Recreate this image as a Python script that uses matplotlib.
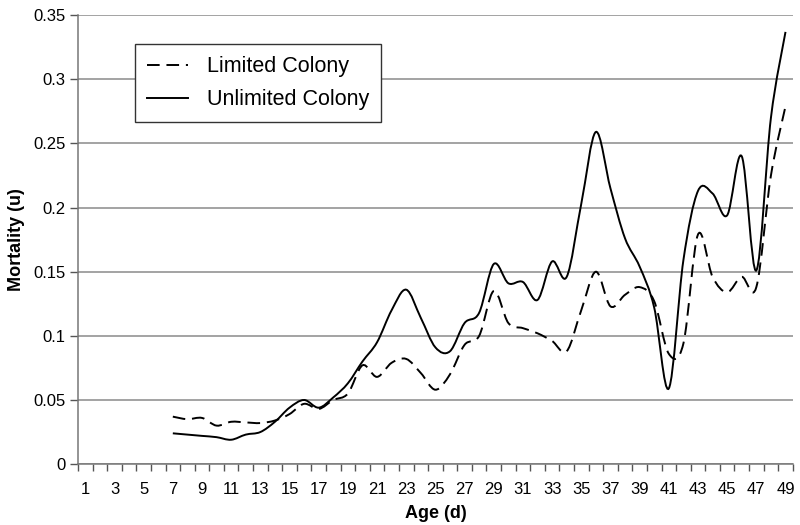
import matplotlib
matplotlib.use("Agg")
import matplotlib.pyplot as plt
from matplotlib.path import Path
from matplotlib.patches import PathPatch
from matplotlib.lines import Line2D

plt.rcParams["font.family"] = ["Liberation Sans", "DejaVu Sans"]

# Age in days (x categories 1..49, data from day 7)
days = list(range(7, 50))

limited = [0.037, 0.035, 0.036, 0.030, 0.033, 0.0325, 0.032, 0.034, 0.039, 0.047,
           0.043, 0.050, 0.055, 0.077, 0.068, 0.079, 0.082, 0.071, 0.058, 0.070,
           0.093, 0.100, 0.135, 0.110, 0.106, 0.102, 0.096, 0.088, 0.120, 0.150,
           0.123, 0.132, 0.138, 0.127, 0.086, 0.094, 0.179, 0.146, 0.134, 0.146,
           0.138, 0.225, 0.279]

unlimited = [0.024, 0.023, 0.022, 0.021, 0.019, 0.023, 0.025, 0.033, 0.044, 0.050,
             0.044, 0.052, 0.063, 0.080, 0.095, 0.120, 0.136, 0.114, 0.091, 0.088,
             0.110, 0.118, 0.156, 0.141, 0.142, 0.128, 0.158, 0.146, 0.203, 0.259,
             0.215, 0.176, 0.154, 0.122, 0.059, 0.159, 0.213, 0.211, 0.194, 0.240,
             0.151, 0.270, 0.337]

x_labels = [str(d) for d in range(1, 50, 2)]
y_ticks = [0, 0.05, 0.1, 0.15, 0.2, 0.25, 0.3, 0.35]
y_labels = ["0", "0.05", "0.1", "0.15", "0.2", "0.25", "0.3", "0.35"]


def smooth_path(x, y):
    # Excel-like smoothed line: cubic Bezier through every data point
    n = len(x)
    verts = [(x[0], y[0])]
    codes = [Path.MOVETO]
    for i in range(n - 1):
        a = i - 1 if i > 0 else i
        b = i + 2 if i + 2 < n else i + 1
        c1 = (x[i] + (x[i + 1] - x[a]) / 6, y[i] + (y[i + 1] - y[a]) / 6)
        c2 = (x[i + 1] - (x[b] - x[i]) / 6, y[i + 1] - (y[b] - y[i]) / 6)
        verts += [c1, c2, (x[i + 1], y[i + 1])]
        codes += [Path.CURVE4] * 3
    return Path(verts, codes)


fig = plt.figure(figsize=(8, 5.25), dpi=100)
ax = fig.add_axes([0.0975, 0.116, 0.8935, 0.855])

dash = (0, (6.5, 3.5))
ax.add_patch(PathPatch(smooth_path(days, limited), fill=False, color="black",
                       lw=1.4, linestyle=dash))
ax.add_patch(PathPatch(smooth_path(days, unlimited), fill=False, color="black",
                       lw=1.4))

ax.set_xlim(0.5, 49.5)
ax.set_ylim(0, 0.35)

ax.set_xticks(range(1, 50, 2))
ax.set_xticklabels(x_labels, fontsize=12)
ax.set_xticks([d + 0.5 for d in range(0, 50)], minor=True)
ax.tick_params(axis="x", which="major", length=0, pad=13)
ax.tick_params(axis="x", which="minor", length=5, width=1, color="#555555")

ax.set_yticks(y_ticks)
ax.set_yticklabels(y_labels, fontsize=12)
ax.tick_params(axis="y", length=6, width=1, color="#555555", pad=3)

ax.yaxis.grid(True, color="#8a8a8a", lw=1.1)
ax.set_axisbelow(True)
for s in ["top", "right"]:
    ax.spines[s].set_visible(False)
for s in ["left", "bottom"]:
    ax.spines[s].set_color("#777777")
    ax.spines[s].set_linewidth(1.1)

ax.set_xlabel("Age (d)", fontsize=13, fontweight="bold", labelpad=6)
ax.set_ylabel("Mortality (u)", fontsize=13, fontweight="bold", labelpad=6)

handles = [Line2D([], [], color="black", lw=1.4, linestyle=dash),
           Line2D([], [], color="black", lw=1.4)]
leg = ax.legend(handles, ["Limited Colony", "Unlimited Colony"],
                loc="upper left", bbox_to_anchor=(0.0797, 0.935),
                fontsize=15.5, frameon=True, fancybox=False, framealpha=1,
                edgecolor="#333333", handlelength=1.9, handletextpad=0.9,
                labelspacing=0.55, borderpad=0.55, borderaxespad=0)
leg.get_frame().set_linewidth(1.0)

fig.savefig("out.png", dpi=100)
